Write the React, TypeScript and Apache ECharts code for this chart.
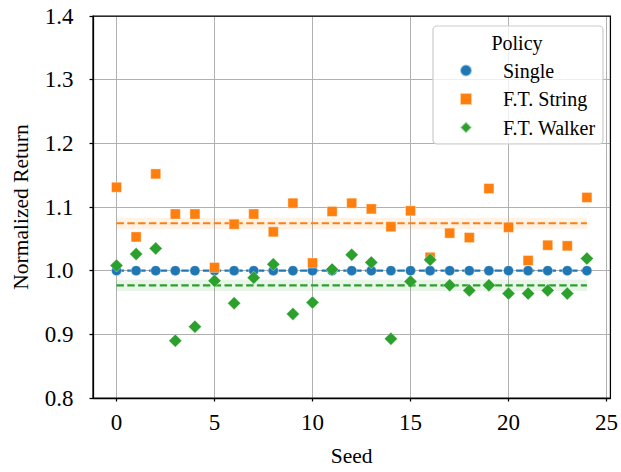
import React, { useEffect, useRef } from "react";
import * as echarts from "echarts";

const seeds = [0, 1, 2, 3, 4, 5, 6, 7, 8, 9, 10, 11, 12, 13, 14, 15, 16, 17, 18, 19, 20, 21, 22, 23, 24];
const single = [1, 1, 1, 1, 1, 1, 1, 1, 1, 1, 1, 1, 1, 1, 1, 1, 1, 1, 1, 1, 1, 1, 1, 1, 1];
const ftString = [1.131, 1.053, 1.152, 1.089, 1.089, 1.005, 1.073, 1.089, 1.061, 1.106, 1.012, 1.093, 1.106, 1.097, 1.069, 1.094, 1.021, 1.059, 1.052, 1.129, 1.068, 1.016, 1.04, 1.039, 1.115];
const ftWalker = [1.008, 1.026, 1.035, 0.89, 0.912, 0.984, 0.949, 0.989, 1.01, 0.932, 0.95, 1.002, 1.025, 1.013, 0.893, 0.983, 1.017, 0.977, 0.969, 0.977, 0.964, 0.964, 0.969, 0.964, 1.019];

const seriesNames = ["Single", "F.T. String", "F.T. Walker"];
const meanValues = [1.0, 1.0745, 0.977];
const bandLow = [1.0, 1.065, 0.968];
const bandHigh = [1.0, 1.083, 0.986];
const xTicks = [0, 5, 10, 15, 20, 25];
const yTicks = [0.8, 0.9, 1.0, 1.1, 1.2, 1.3, 1.4];

const colors = ["#1f77b4", "#ff7f0e", "#2ca02c"];
const bandColors = ["rgba(31,119,180,0.12)", "rgba(255,127,14,0.1)", "rgba(44,160,44,0.1)"];
const symbols = ["circle", "rect", "diamond"];
const symbolSizes = [10, 10, 13];
const FONT = "Liberation Serif";

export default function App() {
  const ref = useRef<HTMLDivElement>(null);
  useEffect(() => {
    if (!ref.current) return;
    const chart = echarts.init(ref.current, null, { renderer: "svg" });
    const values = [single, ftString, ftWalker];
    const xFirst = seeds[0];
    const xLast = seeds[seeds.length - 1];

    const bandAndLines: any[] = seriesNames.map((name, i) => ({
      name: name + " mean",
      type: "line",
      data: [
        [xFirst, meanValues[i]],
        [xLast, meanValues[i]],
      ],
      symbol: "none",
      silent: true,
      z: 2,
      lineStyle: { color: colors[i], width: 2.2, type: [7.4, 3.4] },
      markArea: {
        silent: true,
        itemStyle: { color: bandColors[i] },
        data: [[{ coord: [xFirst, bandLow[i]] }, { coord: [xLast, bandHigh[i]] }]],
      },
    }));

    const scatters: any[] = seriesNames.map((name, i) => ({
      name,
      type: "scatter",
      symbol: symbols[i],
      symbolSize: symbolSizes[i],
      z: 3 + i,
      data: seeds.map((s, j) => [s, values[i][j]]),
      itemStyle: {
        color: colors[i],
        opacity: 1,
        borderColor: "rgba(255,255,255,0.6)",
        borderWidth: 0.6,
      },
    }));

    const tickStyle = { fontFamily: FONT, fontSize: 23, color: "#000" };
    const nameStyle = { fontFamily: FONT, fontSize: 21.5, color: "#000" };

    chart.setOption({
      animation: false,
      textStyle: { fontFamily: FONT },
      grid: {
        left: 93,
        right: 9,
        top: 16,
        bottom: 72.5,
        show: true,
        borderColor: "#000",
        borderWidth: 1.25,
        backgroundColor: "transparent",
        z: 8,
      },
      xAxis: {
        type: "value",
        min: -1.2,
        max: 25.2,
        name: "Seed",
        nameLocation: "middle",
        nameGap: 47,
        nameTextStyle: nameStyle,
        axisLine: { show: true, onZero: false, lineStyle: { color: "#000", width: 1.25 } },
        axisTick: { show: true, length: 3.5, customValues: xTicks, lineStyle: { color: "#000", width: 1.25 } },
        axisLabel: {
          customValues: xTicks,
          margin: 13,
          ...tickStyle,
        },
        splitLine: { show: true, lineStyle: { color: "#b0b0b0", width: 1 } },
      },
      yAxis: {
        type: "value",
        min: 0.8,
        max: 1.4,
        interval: 0.1,
        name: "Normalized Return",
        nameLocation: "middle",
        nameGap: 61,
        nameTextStyle: nameStyle,
        axisLine: { show: true, onZero: false, lineStyle: { color: "#000", width: 1.25 } },
        axisTick: { show: true, length: 3.5, lineStyle: { color: "#000", width: 1.25 } },
        axisLabel: {
          margin: 19.5,
          ...tickStyle,
          formatter: (v: number) => {
            const t = yTicks.find((y) => Math.abs(y - v) < 1e-6);
            return t !== undefined ? t.toFixed(1) : "";
          },
        },
        splitLine: { show: true, lineStyle: { color: "#b0b0b0", width: 1 } },
      },
      legend: {
        show: true,
        orient: "vertical",
        left: 454,
        top: 55.5,
        itemWidth: 12,
        itemHeight: 12,
        itemGap: 8.5,
        z: 20,
        data: seriesNames.map((n, i) => ({ name: n, icon: symbols[i] })),
        textStyle: { fontFamily: FONT, fontSize: 20, color: "#000", padding: [0, 0, 0, 26], lineHeight: 20 },
      },
      graphic: [
        {
          type: "rect",
          z: 15,
          shape: { x: 433, y: 26, width: 170, height: 118, r: 4 },
          style: { fill: "rgba(255,255,255,0.8)", stroke: "#cccccc", lineWidth: 1.2 },
        },
        {
          type: "text",
          z: 21,
          x: 517,
          y: 43,
          style: {
            text: "Policy",
            fontFamily: FONT,
            fontSize: 20,
            fill: "#000",
            align: "center",
            verticalAlign: "middle",
          },
        },
      ],
      series: [...bandAndLines, ...scatters],
    });
    return () => chart.dispose();
  }, []);
  return <div ref={ref} style={{ width: 621, height: 472, position: "absolute", left: 0, top: 0 }} />;
}
